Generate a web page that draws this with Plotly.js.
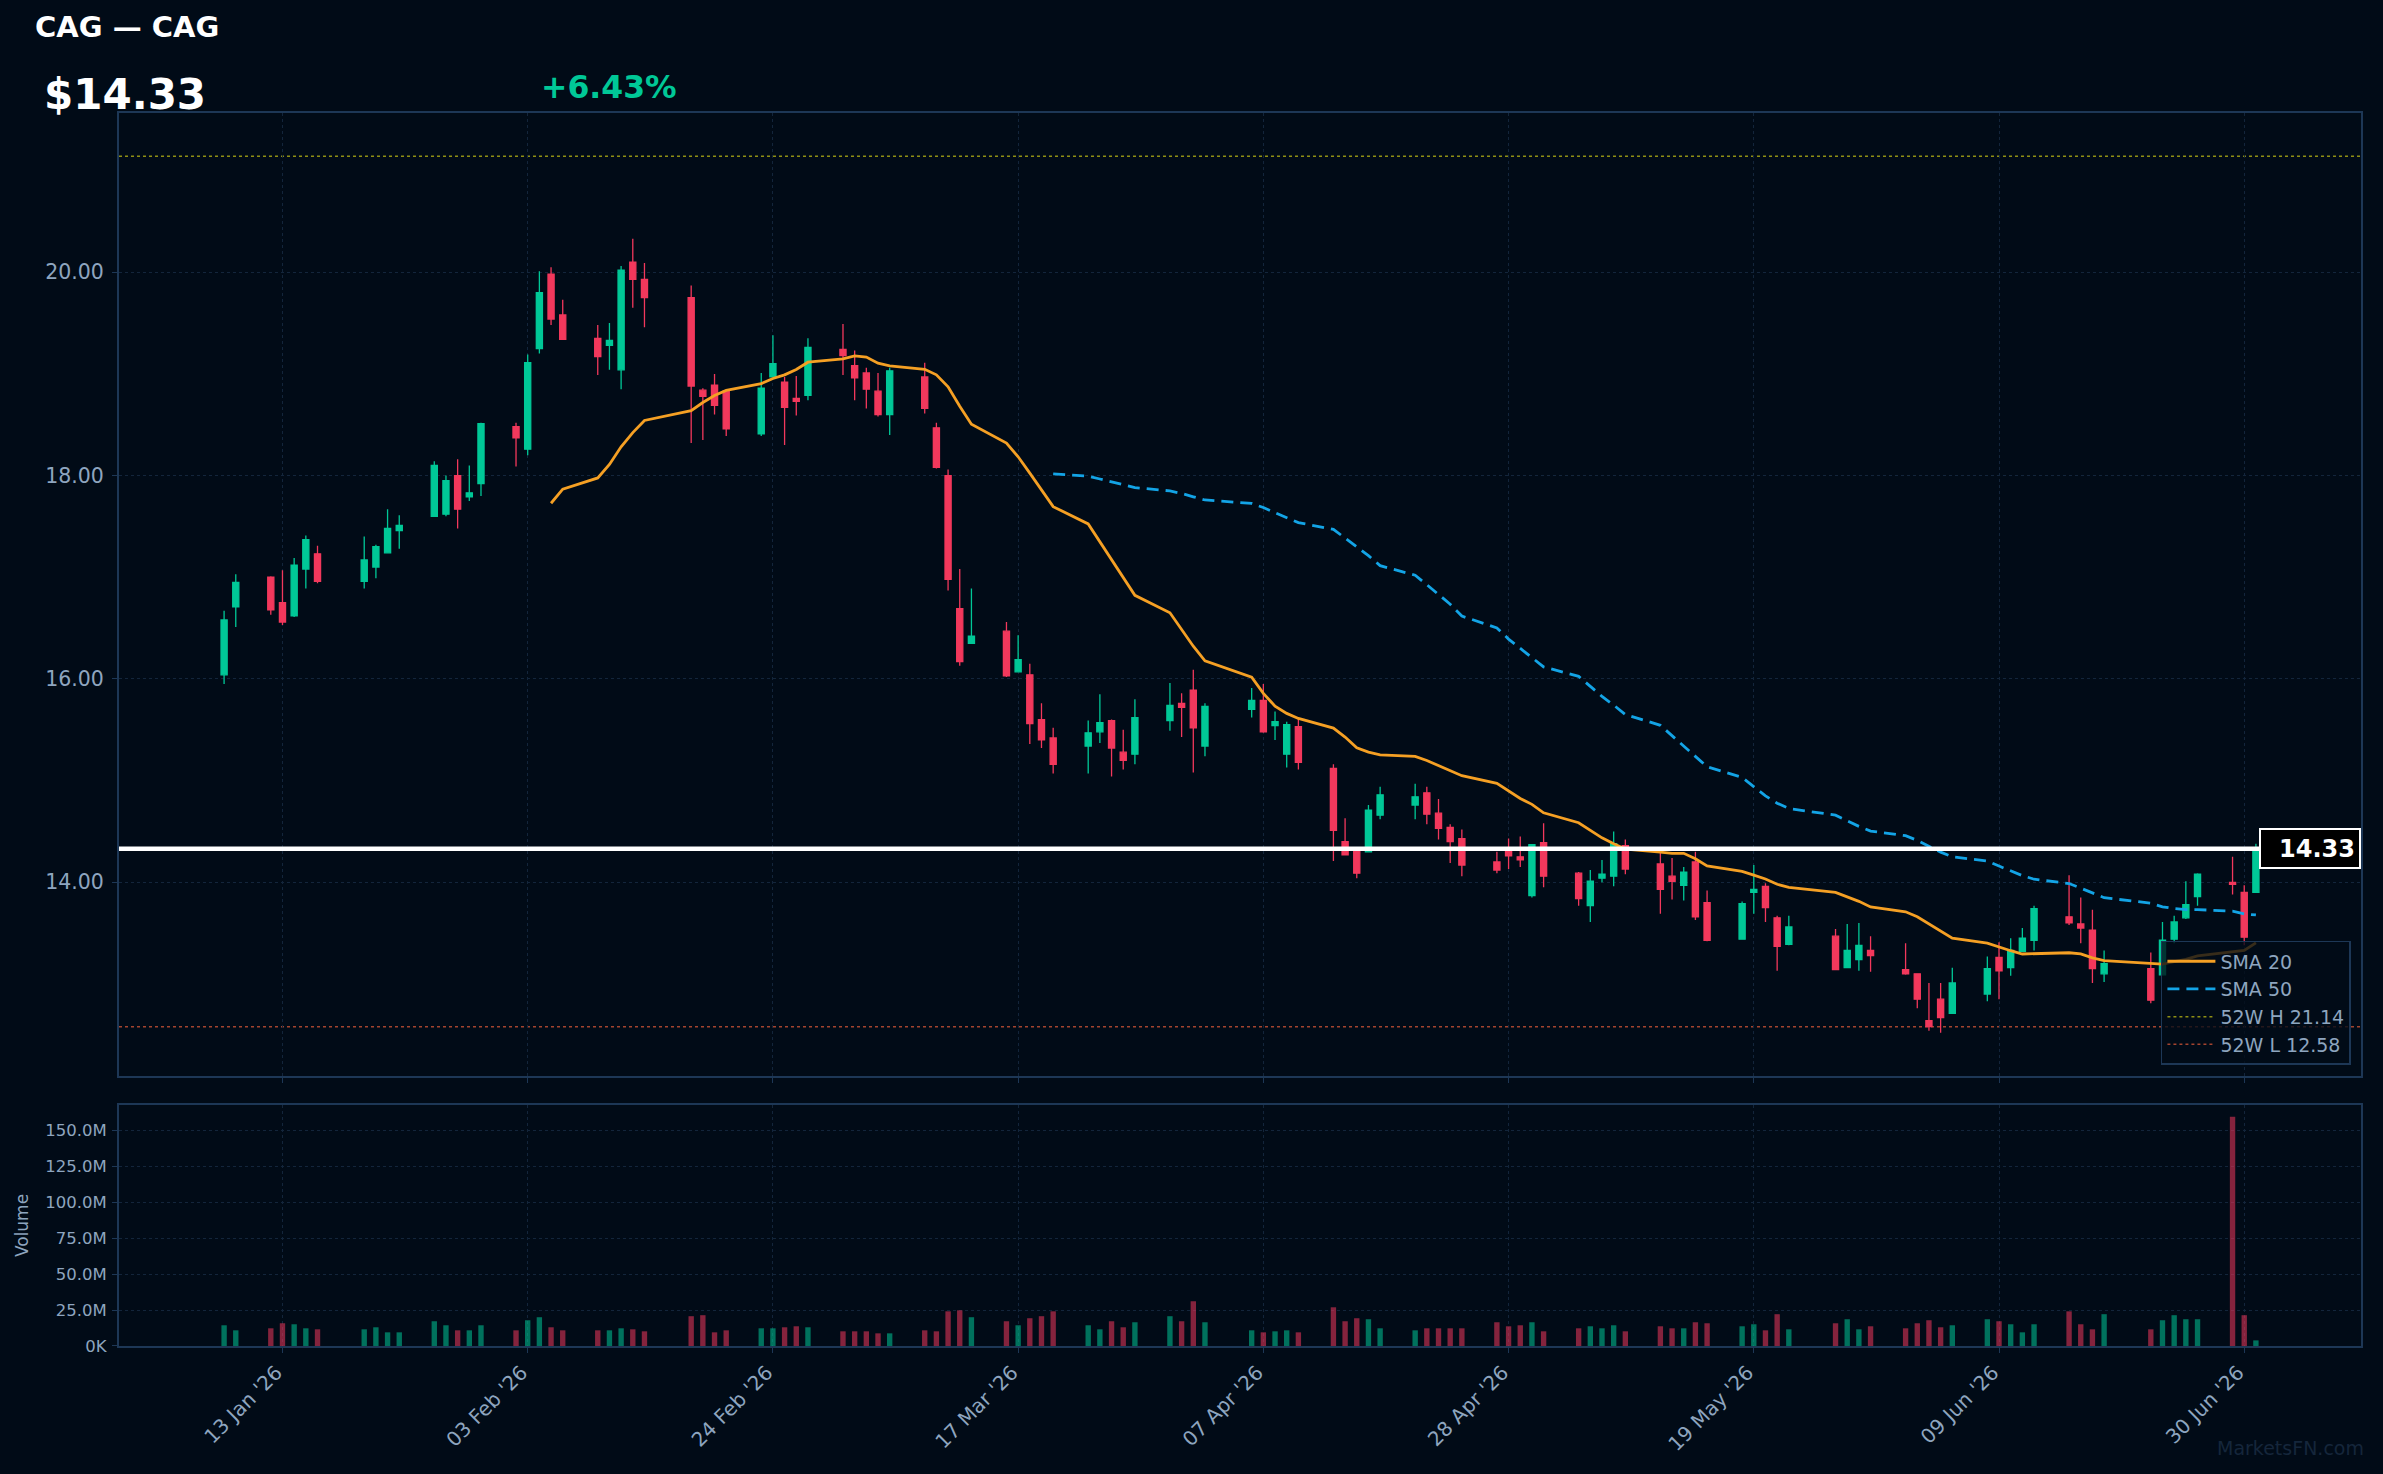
<!DOCTYPE html>
<html>
<head>
<meta charset="utf-8">
<script src="https://cdn.plot.ly/plotly-3.0.1.min.js"></script>
<style>
html,body{margin:0;padding:0;background:#010b17;}
#chart{width:2383px;height:1474px;}
</style>
</head>
<body>
<div id="chart"></div>
<script>
// ---- data ----
const dates = ["2026-01-08","2026-01-09","2026-01-12","2026-01-13","2026-01-14","2026-01-15","2026-01-16","2026-01-20","2026-01-21","2026-01-22","2026-01-23","2026-01-26","2026-01-27","2026-01-28","2026-01-29","2026-01-30",
"2026-02-02","2026-02-03","2026-02-04","2026-02-05","2026-02-06","2026-02-09","2026-02-10","2026-02-11","2026-02-12","2026-02-13","2026-02-17","2026-02-18","2026-02-19","2026-02-20","2026-02-23","2026-02-24","2026-02-25","2026-02-26","2026-02-27",
"2026-03-02","2026-03-03","2026-03-04","2026-03-05","2026-03-06","2026-03-09","2026-03-10","2026-03-11","2026-03-12","2026-03-13","2026-03-16","2026-03-17","2026-03-18","2026-03-19","2026-03-20","2026-03-23","2026-03-24","2026-03-25","2026-03-26","2026-03-27","2026-03-30","2026-03-31",
"2026-04-01","2026-04-02","2026-04-06","2026-04-07","2026-04-08","2026-04-09","2026-04-10","2026-04-13","2026-04-14","2026-04-15","2026-04-16","2026-04-17","2026-04-20","2026-04-21","2026-04-22","2026-04-23","2026-04-24","2026-04-27","2026-04-28","2026-04-29","2026-04-30",
"2026-05-01","2026-05-04","2026-05-05","2026-05-06","2026-05-07","2026-05-08","2026-05-11","2026-05-12","2026-05-13","2026-05-14","2026-05-15","2026-05-18","2026-05-19","2026-05-20","2026-05-21","2026-05-22","2026-05-26","2026-05-27","2026-05-28","2026-05-29",
"2026-06-01","2026-06-02","2026-06-03","2026-06-04","2026-06-05","2026-06-08","2026-06-09","2026-06-10","2026-06-11","2026-06-12","2026-06-15","2026-06-16","2026-06-17","2026-06-18","2026-06-22","2026-06-23","2026-06-24","2026-06-25","2026-06-26","2026-06-29","2026-06-30",
"2026-07-01"];

const openP = [16.04,16.71,17.00,16.75,16.62,17.08,17.23,16.96,17.10,17.24,17.46,17.60,17.62,18.00,17.79,17.92,
18.48,18.26,19.25,19.98,19.58,19.35,19.28,19.04,20.10,19.93,19.75,18.84,18.89,18.83,18.41,18.97,18.92,18.76,18.79,
19.24,19.08,19.01,18.83,18.60,18.97,18.47,18.00,16.69,16.35,16.47,16.07,16.04,15.60,15.42,15.34,15.48,15.59,15.28,15.26,15.59,15.76,
15.89,15.34,15.70,15.79,15.54,15.26,15.53,15.12,14.40,14.33,14.30,14.66,14.76,14.88,14.68,14.54,14.43,14.20,14.32,14.25,13.87,
14.39,14.09,13.77,14.04,14.06,14.36,14.18,14.06,13.97,14.20,13.80,13.44,13.90,13.96,13.65,13.39,13.47,13.16,13.24,13.33,
13.14,13.10,12.64,12.85,12.71,12.90,13.26,13.16,13.32,13.43,13.66,13.59,13.53,13.10,13.15,13.09,13.44,13.65,13.86,14.00,13.90,
13.90];

const highP = [16.67,17.03,17.01,17.07,17.19,17.41,17.31,17.40,17.32,17.67,17.61,18.14,18.00,18.16,18.10,18.52,
18.52,19.19,20.01,20.05,19.73,19.48,19.50,20.06,20.33,20.09,19.87,18.86,19.00,18.83,19.01,19.38,18.97,18.98,19.35,
19.49,19.23,19.06,19.01,19.06,19.11,18.52,18.06,17.08,16.89,16.56,16.43,16.15,15.76,15.52,15.59,15.85,15.60,15.50,15.80,15.96,15.86,
16.09,15.76,15.91,15.95,15.68,15.58,15.61,15.16,14.63,14.33,14.76,14.94,14.97,14.94,14.82,14.57,14.52,14.30,14.43,14.45,14.37,
14.58,14.10,14.12,14.22,14.50,14.42,14.33,14.24,14.15,14.30,13.92,13.81,14.17,13.99,13.67,13.67,13.54,13.59,13.60,13.47,
13.40,13.10,13.01,13.01,13.16,13.27,13.41,13.45,13.55,13.77,14.07,13.85,13.73,13.33,13.31,13.61,13.67,14.01,14.09,14.25,13.97,
14.38];

const lowP = [15.95,16.51,16.63,16.53,16.61,16.89,16.94,16.89,16.99,17.24,17.28,17.60,17.60,17.48,17.75,17.80,
18.09,18.20,19.20,19.48,19.34,18.99,19.04,18.85,19.65,19.46,18.32,18.35,18.60,18.39,18.39,18.97,18.30,18.59,18.74,
18.99,18.74,18.66,18.58,18.40,18.61,18.07,16.87,16.13,16.35,16.02,16.07,15.36,15.32,15.07,15.07,15.37,15.04,15.11,15.16,15.49,15.43,
15.08,15.24,15.62,15.47,15.40,15.13,15.11,14.21,14.27,14.04,14.30,14.62,14.62,14.57,14.42,14.19,14.06,14.09,14.13,14.15,13.85,
13.95,13.77,13.61,14.00,13.96,14.08,13.69,13.83,13.82,13.63,13.42,13.44,13.69,13.61,13.13,13.38,13.14,13.16,13.13,13.12,
13.09,12.76,12.54,12.52,12.71,12.83,12.85,13.08,13.32,13.33,13.58,13.40,13.01,13.02,12.81,13.09,13.40,13.64,13.77,13.88,13.38,
13.90];

const closeP = [16.58,16.95,16.68,16.56,17.12,17.37,16.96,17.17,17.30,17.48,17.51,18.10,17.95,17.67,17.83,18.51,
18.37,19.11,19.80,19.54,19.34,19.17,19.33,20.02,19.93,19.75,18.88,18.78,18.69,18.46,18.86,19.10,18.67,18.73,19.26,
19.18,18.96,18.85,18.60,19.03,18.66,18.08,16.98,16.17,16.42,16.03,16.19,15.56,15.40,15.16,15.47,15.57,15.32,15.20,15.62,15.74,15.72,
15.52,15.73,15.79,15.48,15.58,15.55,15.18,14.51,14.27,14.09,14.71,14.86,14.84,14.67,14.53,14.40,14.17,14.12,14.26,14.22,14.37,
14.06,13.84,14.01,14.08,14.38,14.13,13.93,14.01,14.10,13.66,13.43,13.79,13.93,13.75,13.37,13.56,13.14,13.33,13.38,13.28,
13.10,12.85,12.58,12.67,13.01,13.15,13.13,13.33,13.45,13.74,13.60,13.55,13.15,13.20,12.84,13.43,13.61,13.78,14.08,13.98,13.46,
14.33];

// volume in millions of shares
const volumeM = [14.4,10.9,12.3,15.8,15.1,12.3,11.6,11.6,13.0,9.5,9.5,17.2,14.4,10.9,10.9,14.4,
10.9,17.9,20.0,13.0,10.9,10.9,10.9,12.3,11.6,10.2,20.7,21.4,9.5,10.9,12.3,12.3,13.0,13.7,13.0,
10.2,10.2,10.2,8.8,8.8,10.9,10.2,24.1,24.8,20.0,17.2,14.4,19.3,20.7,24.1,14.4,11.6,17.2,13.0,16.5,20.7,17.2,
31.1,16.5,10.9,9.5,10.2,10.9,9.5,26.9,17.2,19.3,18.6,12.3,10.9,12.3,12.3,12.3,12.3,16.5,13.7,14.4,16.5,
10.2,12.3,13.7,12.3,14.4,10.2,13.7,12.3,12.3,16.5,15.8,13.7,15.1,10.9,22.1,11.6,15.8,18.6,11.6,13.7,
12.3,15.8,17.9,13.0,14.4,18.6,17.2,15.1,9.5,15.1,24.1,15.1,11.6,22.1,11.6,17.9,21.4,18.6,18.6,159.3,21.4,
3.9];

const ticker = "CAG";
const lastPrice = 14.33;
const changePct = "+6.43%";
const high52 = 21.14;
const low52 = 12.58;

const priceTickVals = [14, 16, 18, 20];
const volTickVals = [0, 25, 50, 75, 100, 125, 150];
const volTickText = ["0K", "25.0M", "50.0M", "75.0M", "100.0M", "125.0M", "150.0M"];
const dateTickVals = ["2026-01-13","2026-02-03","2026-02-24","2026-03-17","2026-04-07","2026-04-28","2026-05-19","2026-06-09","2026-06-30"];

// ---- derived ----
function sma(arr, n) {
  return arr.map((v, i) => {
    if (i < n - 1) return null;
    let s = 0;
    for (let k = i - n + 1; k <= i; k++) s += arr[k];
    return s / n;
  });
}
const sma20 = sma(closeP, 20);
const sma50 = sma(closeP, 50);

const UP = "#00c897", DOWN = "#f2385c";
const volColors = closeP.map((c, i) => c >= openP[i] ? UP : DOWN);

const BG = "#010b17";
const FRAME = "#1d3756";
const GRID = "#13253b";
const TXT = "#8ea5bf";
const FONT = "DejaVu Sans";

const traces = [
  {
    type: "candlestick", x: dates, open: openP, high: highP, low: lowP, close: closeP,
    xaxis: "x", yaxis: "y", showlegend: false, hoverinfo: "skip",
    increasing: {line: {color: UP, width: 1.3}, fillcolor: UP},
    decreasing: {line: {color: DOWN, width: 1.3}, fillcolor: DOWN}
  },
  {
    type: "scatter", mode: "lines", x: dates, y: sma20, name: "SMA 20",
    line: {color: "#f5a024", width: 2.8}, xaxis: "x", yaxis: "y", hoverinfo: "skip"
  },
  {
    type: "scatter", mode: "lines", x: dates, y: sma50, name: "SMA 50",
    line: {color: "#13a4e6", width: 2.8, dash: "12px,7px"}, xaxis: "x", yaxis: "y", hoverinfo: "skip"
  },
  {
    type: "bar", x: dates, y: volumeM, xaxis: "x2", yaxis: "y2", showlegend: false, hoverinfo: "skip",
    marker: {color: volColors, opacity: 0.55, line: {width: 0}},
    width: 0.46 * 86400000
  }
];

const axisCommon = {
  showline: true, mirror: true, linecolor: FRAME, linewidth: 2,
  showgrid: true, gridcolor: GRID, griddash: "dot", gridwidth: 1,
  zeroline: false, ticks: "outside", ticklen: 5, tickcolor: FRAME,
  tickfont: {family: FONT, color: TXT}
};

const layout = {
  width: 2383, height: 1474,
  paper_bgcolor: BG, plot_bgcolor: BG,
  margin: {l: 119, r: 22, t: 113, b: 128, pad: 0},
  font: {family: FONT, color: TXT},
  boxgap: 0.25,
  showlegend: true,
  legend: {
    x: 0.9955, xanchor: "right", y: 0.228, yanchor: "bottom",
    bgcolor: "rgba(1,11,23,0.78)", bordercolor: FRAME, borderwidth: 1.5,
    font: {family: FONT, size: 19, color: TXT}, itemwidth: 48, tracegroupgap: 0
  },
  xaxis: Object.assign({}, axisCommon, {
    domain: [0, 1], anchor: "y", type: "date",
    range: ["2025-12-30", "2026-07-10"],
    tickmode: "array", tickvals: dateTickVals,
    showticklabels: false, rangeslider: {visible: false}
  }),
  xaxis2: Object.assign({}, axisCommon, {
    domain: [0, 1], anchor: "y2", type: "date", matches: "x",
    range: ["2025-12-30", "2026-07-10"],
    tickmode: "array", tickvals: dateTickVals,
    tickformat: "%d %b '%y", tickangle: -45, ticklabelshift: -6,
    tickfont: {family: FONT, color: TXT, size: 20}
  }),
  yaxis: Object.assign({}, axisCommon, {
    domain: [0.219, 1], anchor: "x",
    range: [12.095, 21.566],
    tickmode: "array", tickvals: priceTickVals, tickformat: ".2f",
    tickfont: {family: FONT, color: TXT, size: 20.5}, ticklabelstandoff: 4
  }),
  yaxis2: Object.assign({}, axisCommon, {
    domain: [0, 0.1955], anchor: "x2",
    range: [0, 167.5],
    tickmode: "array", tickvals: volTickVals, ticktext: volTickText,
    tickfont: {family: FONT, color: TXT, size: 16.5}, ticklabelstandoff: 2,
    title: {text: "Volume", font: {family: FONT, size: 17, color: TXT}, standoff: 12}
  }),
  shapes: [
    {type: "line", xref: "paper", x0: 0, x1: 1, yref: "y", y0: high52, y1: high52,
     line: {color: "#8f8f14", width: 1.5, dash: "dot"}, layer: "below",
     showlegend: true, name: "52W H " + high52.toFixed(2)},
    {type: "line", xref: "paper", x0: 0, x1: 1, yref: "y", y0: low52, y1: low52,
     line: {color: "#a4442f", width: 1.5, dash: "dot"}, layer: "below",
     showlegend: true, name: "52W L " + low52.toFixed(2)},
    {type: "line", xref: "paper", x0: 0, x1: 1, yref: "y", y0: lastPrice, y1: lastPrice,
     line: {color: "#ffffff", width: 4.5}, layer: "above"}
  ],
  annotations: [
    {xref: "paper", yref: "paper", x: -0.0382, y: 1.0698, xanchor: "left", yanchor: "middle",
     text: "<b>" + ticker + " — " + ticker + "</b>", showarrow: false,
     font: {family: FONT, size: 29, color: "#ffffff"}},
    {xref: "paper", yref: "paper", x: -0.0343, y: 1.0150, xanchor: "left", yanchor: "middle",
     text: "<b>$" + lastPrice.toFixed(2) + "</b>", showarrow: false,
     font: {family: FONT, size: 42, color: "#ffffff"}},
    {xref: "paper", yref: "paper", x: 0.1874, y: 1.0207, xanchor: "left", yanchor: "middle",
     text: "<b>" + changePct + "</b>", showarrow: false,
     font: {family: FONT, size: 31.5, color: "#00c897"}},
    {xref: "paper", yref: "y", x: 1, y: lastPrice, xanchor: "right", yanchor: "middle",
     text: "<b>" + lastPrice.toFixed(2) + "</b>", showarrow: false, align: "right",
     width: 90, height: 29, bgcolor: "#000000", bordercolor: "#ffffff", borderwidth: 2, borderpad: 4,
     font: {family: FONT, size: 24, color: "#ffffff"}},
    {xref: "paper", yref: "paper", x: 1.0022, y: -0.083, xanchor: "right", yanchor: "middle",
     text: "MarketsFN.com", showarrow: false,
     font: {family: FONT, size: 19, color: "#15263b"}}
  ]
};

Plotly.newPlot("chart", traces, layout, {displayModeBar: false, staticPlot: true});
</script>
</body>
</html>
